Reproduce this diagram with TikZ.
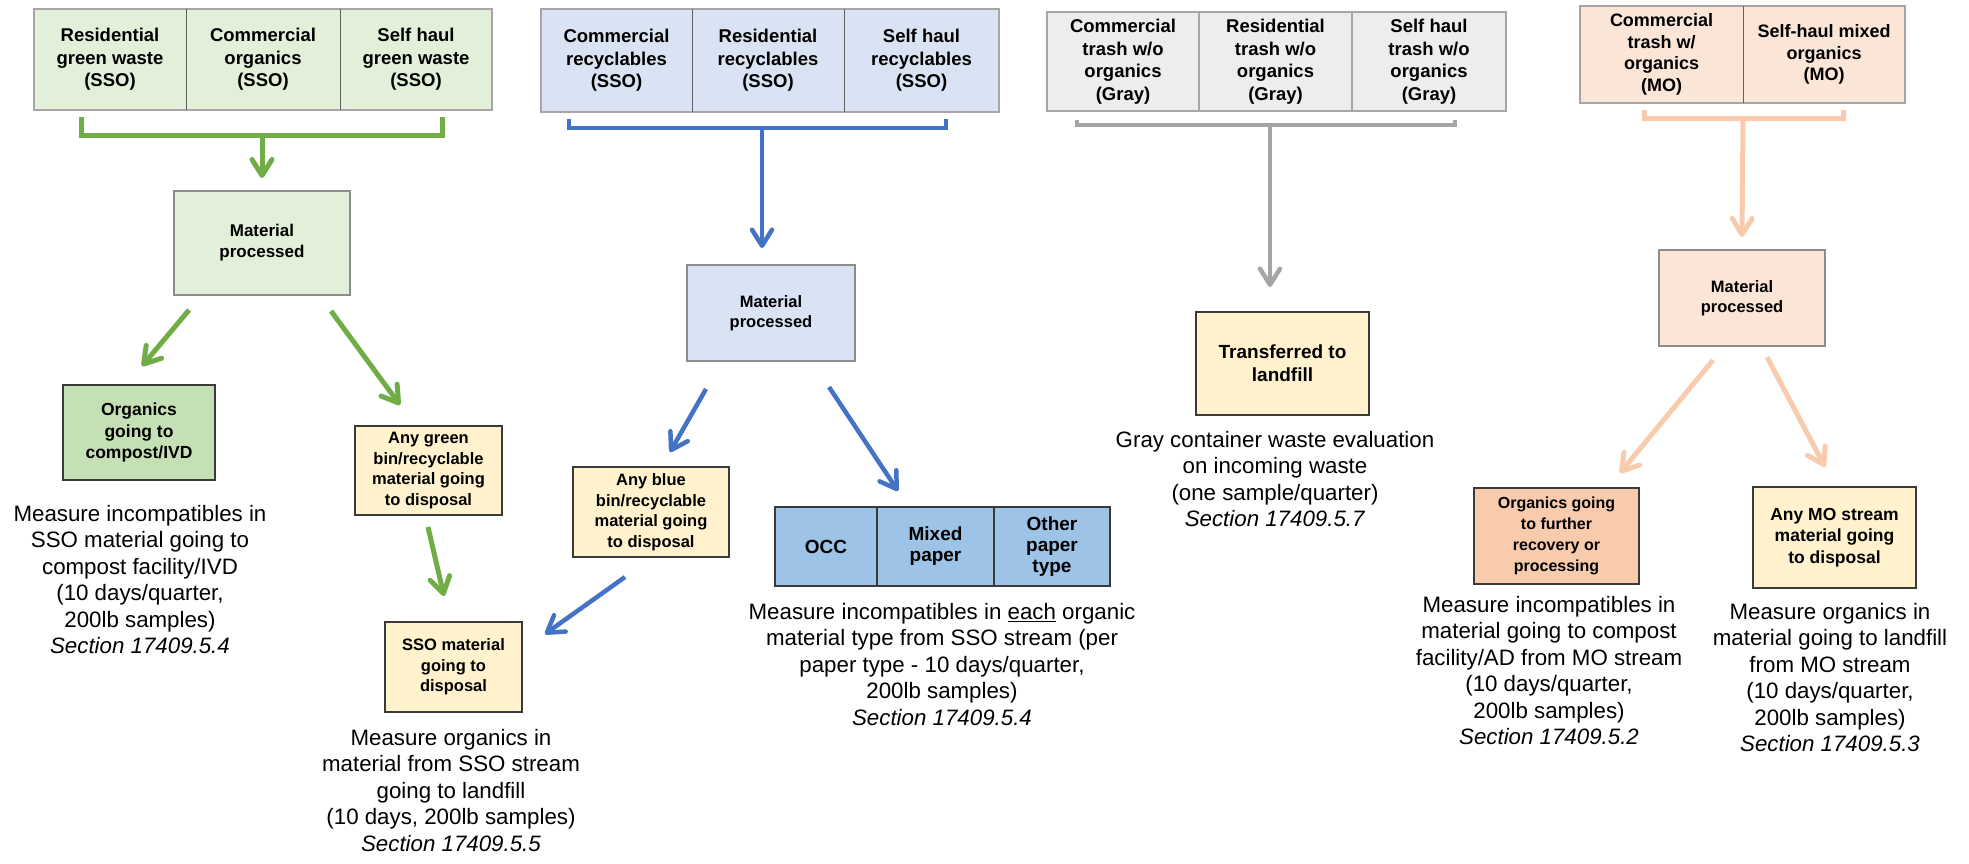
\documentclass[tikz,border=0pt]{standalone}
\usepackage{fontspec}
\setmainfont{Liberation Sans}
\usetikzlibrary{arrows.meta}
\definecolor{gline}{HTML}{70AD47}
\definecolor{gfill}{HTML}{E2F0D9}
\definecolor{gdark}{HTML}{C5E0B4}
\definecolor{bline}{HTML}{4472C4}
\definecolor{bfill}{HTML}{DAE3F3}
\definecolor{bdark}{HTML}{9DC3E6}
\definecolor{kline}{HTML}{A5A5A5}
\definecolor{kfill}{HTML}{EDEDED}
\definecolor{oline}{HTML}{F8CBAD}
\definecolor{ofill}{HTML}{FBE5D6}
\definecolor{odark}{HTML}{F8CBAD}
\definecolor{yfill}{HTML}{FFF2CC}
\definecolor{edgegray}{HTML}{A6A6A6}
\definecolor{darkedge}{HTML}{3A3A3A}
\tikzset{
  cell/.style={rectangle, inner sep=0pt, align=center, font=\bfseries\fontsize{18.5}{22.5}\selectfont},
  outer/.style={draw=edgegray, line width=1.5pt},
  divider/.style={draw=darkedge!80, line width=1.2pt},
  matbox/.style={rectangle, draw=edgegray!85!black, line width=1.6pt, inner sep=0pt, align=center, font=\bfseries\fontsize{17}{21}\selectfont},
  detbox/.style={rectangle, draw=darkedge, line width=1.8pt, inner sep=0pt, align=center, font=\bfseries\fontsize{16.5}{20.5}\selectfont},
  meas/.style={inner sep=0pt, align=center, anchor=north, font=\fontsize{22.3}{26.5}\selectfont},
  bracket/.style={line width=#1, line cap=butt},
  flow/.style={line width=#1, -{Straight Barb[length=16pt,width=20pt,round]}},
}
\begin{document}
\begin{tikzpicture}[x=1pt,y=-1pt]
\useasboundingbox (0,0) rectangle (1969,863);

% ================= GREEN =================
\node[cell, fill=gfill, minimum width=152pt, minimum height=101pt] (g1) at (110,59.5) {Residential\\green waste\\(SSO)};
\node[cell, fill=gfill, minimum width=154pt, minimum height=101pt] (g2) at (263,59.5) {Commercial\\organics\\(SSO)};
\node[cell, fill=gfill, minimum width=152pt, minimum height=101pt] (g3) at (416,59.5) {Self haul\\green waste\\(SSO)};
\draw[outer] (g1.north west) rectangle (g3.south east);
\draw[divider] (g1.north east) -- (g1.south east);
\draw[divider] (g2.north east) -- (g2.south east);
\coordinate (gbl) at (81,117);
\coordinate (gbr) at (442,117);
\coordinate (gbm) at (262,135);
\coordinate (gtip) at (262,178);
\draw[bracket=5pt, draw=gline] (gbl) |- (gbm) -| (gbr);
\node[matbox, fill=gfill, minimum width=176pt, minimum height=104pt] (gm) at (262,243) {Material\\processed};
\draw[flow=5pt, draw=gline] (gbm) -- (gtip);
\coordinate (ga1s) at (189,310);
\coordinate (ga1e) at (142,366);
\coordinate (ga2s) at (331,311);
\coordinate (ga2e) at (400,405);
\draw[flow=5pt, draw=gline] (ga1s) -- (ga1e);
\draw[flow=5pt, draw=gline] (ga2s) -- (ga2e);
\node[detbox, fill=gdark, minimum width=152pt, minimum height=95pt, font=\bfseries\fontsize{17.5}{21.5}\selectfont] (gc) at (139,432.5) {Organics\\going to\\compost/IVD};
\node[meas] (gct) at (140,505) {Measure incompatibles in\\SSO material going to\\compost facility/IVD\\(10 days/quarter,\\200lb samples)\\\textit{Section 17409.5.4}};
\node[detbox, fill=yfill, minimum width=147pt, minimum height=89pt] (gy) at (428.5,470.5) {Any green\\bin/recyclable\\material going\\to disposal};
\coordinate (ga3s) at (428,527);
\coordinate (ga3e) at (444,596);
\draw[flow=5pt, draw=gline] (ga3s) -- (ga3e);
\node[detbox, fill=yfill, minimum width=137pt, minimum height=90pt] (gs) at (453.5,667) {SSO material\\going to\\disposal};
\node[meas] (gst) at (451,729) {Measure organics in\\material from SSO stream\\going to landfill\\(10 days, 200lb samples)\\\textit{Section 17409.5.5}};

% ================= BLUE =================
\node[cell, fill=bfill, minimum width=151pt, minimum height=103pt] (b1) at (616.5,60.5) {Commercial\\recyclables\\(SSO)};
\node[cell, fill=bfill, minimum width=152pt, minimum height=103pt] (b2) at (768,60.5) {Residential\\recyclables\\(SSO)};
\node[cell, fill=bfill, minimum width=155pt, minimum height=103pt] (b3) at (921.5,60.5) {Self haul\\recyclables\\(SSO)};
\draw[outer] (b1.north west) rectangle (b3.south east);
\draw[divider] (b1.north east) -- (b1.south east);
\draw[divider] (b2.north east) -- (b2.south east);
\coordinate (bbl) at (569,119);
\coordinate (bbr) at (946,119);
\coordinate (bbm) at (762,128);
\coordinate (btip) at (762,248);
\draw[bracket=4.5pt, draw=bline] (bbl) |- (bbm) -| (bbr);
\draw[flow=4.5pt, draw=bline] (bbm) -- (btip);
\node[matbox, fill=bfill, minimum width=168pt, minimum height=96pt, font=\bfseries\fontsize{16.5}{20.5}\selectfont] (bm) at (771,313) {Material\\processed};
\coordinate (ba1s) at (706,389);
\coordinate (ba1e) at (670,452);
\coordinate (ba2s) at (829,387);
\coordinate (ba2e) at (898,491);
\draw[flow=4.5pt, draw=bline] (ba1s) -- (ba1e);
\draw[flow=4.5pt, draw=bline] (ba2s) -- (ba2e);
\node[detbox, fill=yfill, minimum width=156pt, minimum height=90pt] (by) at (651,512) {Any blue\\bin/recyclable\\material going\\to disposal};
\coordinate (ba3s) at (625,577);
\coordinate (ba3e) at (545,634);
\draw[flow=4.5pt, draw=bline] (ba3s) -- (ba3e);
\node[cell, fill=bdark, minimum width=102pt, minimum height=79pt, font=\bfseries\fontsize{19}{21}\selectfont] (p1) at (826,546.5) {OCC};
\node[cell, fill=bdark, minimum width=117pt, minimum height=79pt, font=\bfseries\fontsize{19}{21}\selectfont] (p2) at (935.5,546.5) {Mixed\\paper};
\node[cell, fill=bdark, minimum width=116pt, minimum height=79pt, font=\bfseries\fontsize{19}{21}\selectfont] (p3) at (1052,546.5) {Other\\paper\\type};
\draw[draw=darkedge, line width=1.8pt] (p1.north west) rectangle (p3.south east);
\draw[draw=darkedge, line width=1.5pt] (p1.north east) -- (p1.south east);
\draw[draw=darkedge, line width=1.5pt] (p2.north east) -- (p2.south east);
\node[meas] (bt) at (942,603) {Measure incompatibles in \underline{each} organic\\material type from SSO stream (per\\paper type - 10 days/quarter,\\200lb samples)\\\textit{Section 17409.5.4}};

% ================= GRAY =================
\node[cell, fill=kfill, minimum width=152pt, minimum height=99pt] (k1) at (1123,61.5) {Commercial\\trash w/o\\organics\\(Gray)};
\node[cell, fill=kfill, minimum width=153pt, minimum height=99pt] (k2) at (1275.5,61.5) {Residential\\trash w/o\\organics\\(Gray)};
\node[cell, fill=kfill, minimum width=154pt, minimum height=99pt] (k3) at (1429,61.5) {Self haul\\trash w/o\\organics\\(Gray)};
\draw[outer] (k1.north west) rectangle (k3.south east);
\draw[outer] (k1.north east) -- (k1.south east);
\draw[outer] (k2.north east) -- (k2.south east);
\coordinate (kbl) at (1077,120);
\coordinate (kbr) at (1455,120);
\coordinate (kbm) at (1270,125);
\coordinate (ktip) at (1270,287);
\draw[bracket=4.5pt, draw=kline] (kbl) |- (kbm) -| (kbr);
\draw[flow=4.5pt, draw=kline] (kbm) -- (ktip);
\node[detbox, fill=yfill, minimum width=173pt, minimum height=103pt, font=\bfseries\fontsize{19}{23}\selectfont] (kl) at (1282.5,363.5) {Transferred to\\landfill};
\node[meas] (kt) at (1275,431) {Gray container waste evaluation\\on incoming waste\\(one sample/quarter)\\\textit{Section 17409.5.7}};

% ================= ORANGE =================
\node[cell, fill=ofill, minimum width=163pt, minimum height=97pt, font=\bfseries\fontsize{18}{21.5}\selectfont] (r1) at (1661.5,54.5) {Commercial\\trash w/\\organics\\(MO)};
\node[cell, fill=ofill, minimum width=162pt, minimum height=97pt, font=\bfseries\fontsize{18}{21.5}\selectfont] (r2) at (1824,54.5) {Self-haul mixed\\organics\\(MO)};
\draw[outer] (r1.north west) rectangle (r2.south east);
\draw[divider] (r1.north east) -- (r1.south east);
\coordinate (rbl) at (1644,110);
\coordinate (rbr) at (1843,110);
\coordinate (rbm) at (1743,118);
\coordinate (rtip) at (1742,237);
\draw[bracket=5pt, draw=oline] (rbl) |- (rbm) -| (rbr);
\draw[flow=5pt, draw=oline] (rbm) -- (rtip);
\node[matbox, fill=ofill, minimum width=166pt, minimum height=96pt, font=\bfseries\fontsize{16.5}{20.5}\selectfont] (rm) at (1742,298) {Material\\processed};
\coordinate (ra1s) at (1713,360);
\coordinate (ra1e) at (1620,473);
\coordinate (ra2s) at (1767,357);
\coordinate (ra2e) at (1825,467);
\draw[flow=5pt, draw=oline] (ra1s) -- (ra1e);
\draw[flow=5pt, draw=oline] (ra2s) -- (ra2e);
\node[detbox, fill=odark, minimum width=165pt, minimum height=96pt, font=\bfseries\fontsize{16}{21}\selectfont] (rf) at (1556.5,536) {Organics going\\to further\\recovery or\\processing};
\node[detbox, fill=yfill, minimum width=163pt, minimum height=101pt, font=\bfseries\fontsize{17.5}{21.5}\selectfont] (ry) at (1834.5,537.5) {Any MO stream\\material going\\to disposal};
\node[meas] (rt1) at (1549,596) {Measure incompatibles in\\material going to compost\\facility/AD from MO stream\\(10 days/quarter,\\200lb samples)\\\textit{Section 17409.5.2}};
\node[meas] (rt2) at (1830,603) {Measure organics in\\material going to landfill\\from MO stream\\(10 days/quarter,\\200lb samples)\\\textit{Section 17409.5.3}};
\end{tikzpicture}
\end{document}
